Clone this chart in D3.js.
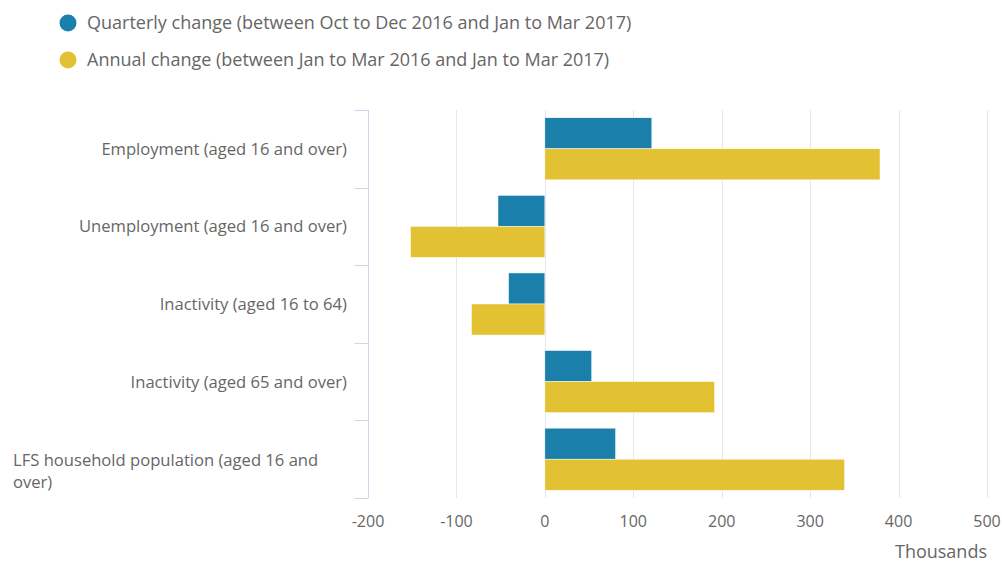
<!DOCTYPE html>
<html>
<head>
<meta charset="utf-8">
<script src="https://cdn.jsdelivr.net/npm/d3@7"></script>
<style>
body { margin: 0; background: #fff; }
svg { font-family: "Open Sans", sans-serif; }
</style>
</head>
<body>
<script>
var categories = [
    "Employment (aged 16 and over)",
    "Unemployment (aged 16 and over)",
    "Inactivity (aged 16 to 64)",
    "Inactivity (aged 65 and over)",
    "LFS household population (aged 16 and over)"
];
var seriesNames = [
    "Quarterly change (between Oct to Dec 2016 and Jan to Mar 2017)",
    "Annual change (between Jan to Mar 2016 and Jan to Mar 2017)"
];
var quarterly = [121, -53, -41, 53, 80];
var annual = [379, -152, -83, 192, 339];
var xTicks = [-200, -100, 0, 100, 200, 300, 400, 500];
var colors = ["#1a80ab", "#e2c133"];

var width = 1002, height = 562;
var plotLeft = 368, plotRight = 987, plotTop = 110, plotBottom = 498;

var svg = d3.select("body").append("svg")
    .attr("width", width)
    .attr("height", height);

var x = d3.scaleLinear().domain([-200, 500]).range([plotLeft, plotRight]);
var y = d3.scaleBand().domain(categories).range([plotTop, plotBottom]);
var inner = d3.scaleBand().domain([0, 1]).range([0, y.bandwidth()]).paddingOuter(0.25);

// grid lines
svg.append("g").selectAll("line")
    .data(xTicks)
    .enter().append("line")
    .attr("x1", function(d) { return Math.round(x(d)) + 0.5; })
    .attr("x2", function(d) { return Math.round(x(d)) + 0.5; })
    .attr("y1", plotTop)
    .attr("y2", plotBottom)
    .style("stroke", "#e6e6e6")
    .style("stroke-width", 1);

// bars
var rows = categories.map(function(c, i) { return [quarterly[i], annual[i]]; });
var groups = svg.append("g").selectAll("g")
    .data(rows)
    .enter().append("g")
    .attr("transform", function(d, i) { return "translate(0," + y(categories[i]) + ")"; });

groups.selectAll("rect")
    .data(function(d) { return d; })
    .enter().append("rect")
    .attr("x", function(d) { return x(Math.min(0, d)); })
    .attr("width", function(d) { return Math.abs(x(d) - x(0)); })
    .attr("y", function(d, j) { return inner(j); })
    .attr("height", inner.bandwidth())
    .style("fill", function(d, j) { return colors[j]; })
    .style("stroke", "#fff")
    .style("stroke-width", 0.5);

// category axis
var yAxis = svg.append("g").attr("transform", "translate(" + (plotLeft + 0.5) + ",0)");
yAxis.append("line")
    .attr("x1", 0).attr("x2", 0)
    .attr("y1", plotTop).attr("y2", plotBottom)
    .style("stroke", "#ccd6eb");
yAxis.selectAll("line.tick")
    .data(d3.range(categories.length + 1))
    .enter().append("line")
    .attr("class", "tick")
    .attr("x1", -14).attr("x2", 0)
    .attr("y1", function(i) { return Math.round(plotTop + i * y.step()) + 0.5; })
    .attr("y2", function(i) { return Math.round(plotTop + i * y.step()) + 0.5; })
    .style("stroke", "#ccd6eb");

var labels = svg.append("g").selectAll("text")
    .data(categories)
    .enter().append("text")
    .attr("text-anchor", "end")
    .style("font-size", "16.6px")
    .style("fill", "#666");

labels.each(function(d) {
    var t = d3.select(this);
    var cy = y(d) + y.bandwidth() / 2;
    if (d.length > 35) {
        t.attr("text-anchor", "start");
        t.append("tspan").attr("x", 13).attr("y", cy + 7).text("LFS household population (aged 16 and");
        t.append("tspan").attr("x", 13).attr("y", cy + 29).text("over)");
    } else {
        t.append("tspan").attr("x", 347).attr("y", cy + 6).text(d);
    }
});

// value axis labels
svg.append("g").selectAll("text")
    .data(xTicks)
    .enter().append("text")
    .attr("x", function(d) { return x(d); })
    .attr("y", 527)
    .attr("text-anchor", "middle")
    .style("font-size", "16px")
    .style("fill", "#666")
    .text(function(d) { return d; });

svg.append("text")
    .attr("x", 987)
    .attr("y", 558)
    .attr("text-anchor", "end")
    .style("font-size", "18px")
    .style("fill", "#666")
    .text("Thousands");

// legend
var legend = svg.append("g").selectAll("g")
    .data(seriesNames)
    .enter().append("g")
    .attr("transform", function(d, i) { return "translate(0," + (23 + i * 37) + ")"; });
legend.append("circle")
    .attr("cx", 68)
    .attr("cy", 0)
    .attr("r", 8.5)
    .style("fill", function(d, i) { return colors[i]; });
legend.append("text")
    .attr("x", 87)
    .attr("y", 6)
    .style("font-size", "18px")
    .style("fill", "#666")
    .text(function(d) { return d; });
</script>
</body>
</html>
